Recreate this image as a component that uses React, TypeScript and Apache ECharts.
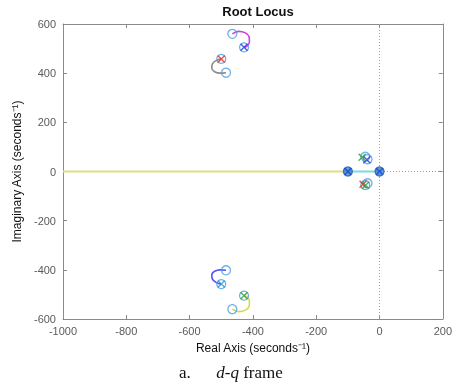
import React, { useEffect, useRef } from "react";
import * as echarts from "echarts";

const xRange = [-1000, 200];
const yRange = [-600, 600];
const tickStep = 200;

const magentaLocus = [[-428, 505], [-418, 511], [-411, 527], [-412, 548], [-424, 564], [-445, 570], [-465, 560]];
const grayLocus = [[-500, 458], [-515, 452], [-528, 438], [-530, 420], [-521, 406], [-503, 400], [-485, 402]];
const blueLocus = [[-485, -402], [-503, -400], [-521, -406], [-530, -420], [-528, -438], [-515, -452], [-500, -458]];
const yellowLocus = [[-428, -505], [-418, -511], [-411, -527], [-412, -548], [-424, -564], [-445, -570], [-465, -560]];
const realAxisLocus = [[-1000, 0], [-100, 0]];
const cyanLocus = [[-100, 0], [0, 0]];

const zerosOpen = [
  [-465, 560], [-428, 505], [-500, 458], [-485, 402],
  [-485, -402], [-500, -458], [-428, -505], [-465, -560],
  [-45, 60], [-38, 50], [-45, -55], [-38, -48],
];
const zerosFilled = [[-100, 0], [0, 0]];

const polesBlue = [[-428, 505], [-40, 48], [-100, 0], [0, 0]];
const polesRed = [[-500, 458], [-52, -52]];
const polesCyan = [[-500, -458]];
const polesGreen = [[-428, -505], [-55, 58], [-44, -56]];

const crossPath = "path://M0,0L10,10M10,0L0,10";

export default function App() {
  const ref = useRef<HTMLDivElement>(null);
  useEffect(() => {
    if (!ref.current) return;
    const chart = echarts.init(ref.current, undefined, { renderer: "svg" });
    const font = "'Liberation Sans', Arial, sans-serif";
    const serif = "'Liberation Serif', 'Times New Roman', serif";
    const axisColor = "#8a8a8a";
    const labelColor = "#5a5a5a";
    const line = (data: number[][], color: string, extra: any = {}) => ({
      type: "line",
      data,
      smooth: 0.4,
      showSymbol: false,
      silent: true,
      lineStyle: { color, width: 1.6, ...(extra.lineStyle || {}) },
      z: extra.z ?? 3,
    });
    const cross = (data: number[][], color: string) => ({
      type: "scatter",
      data,
      symbol: crossPath,
      symbolSize: 7,
      itemStyle: { color: "none", borderColor: color, borderWidth: 1.4 },
      z: 5,
    });
    const nameStyle = { color: "#111", fontFamily: font, fontSize: 12 };
    chart.setOption({
      animation: false,
      title: {
        text: "Root Locus",
        left: 253,
        textAlign: "center",
        top: 0,
        textStyle: { fontFamily: font, fontSize: 13, fontWeight: "bold", color: "#111" },
      },
      grid: { left: 63, right: 11, top: 24, bottom: 66 },
      xAxis: [
        {
          type: "value",
          min: xRange[0],
          max: xRange[1],
          interval: tickStep,
          position: "bottom",
          axisLine: { show: true, onZero: false, lineStyle: { color: axisColor, width: 1 } },
          axisTick: { show: true, inside: true, length: 4, lineStyle: { color: axisColor } },
          splitLine: { show: false },
          axisLabel: { color: labelColor, fontFamily: font, fontSize: 11, margin: 6, formatter: (v: number) => String(v) },
          name: "Real Axis (seconds\u207B\u00B9)",
          nameLocation: "middle",
          nameGap: 23,
          nameTextStyle: nameStyle,
        },
        {
          type: "value",
          min: xRange[0],
          max: xRange[1],
          interval: tickStep,
          position: "top",
          axisLine: { show: true, onZero: false, lineStyle: { color: axisColor, width: 1 } },
          axisTick: { show: true, inside: true, length: 4, lineStyle: { color: axisColor } },
          splitLine: { show: false },
          axisLabel: { show: false },
        },
      ],
      yAxis: [
        {
          type: "value",
          min: yRange[0],
          max: yRange[1],
          interval: tickStep,
          position: "left",
          axisLine: { show: true, onZero: false, lineStyle: { color: axisColor, width: 1 } },
          axisTick: { show: true, inside: true, length: 4, lineStyle: { color: axisColor } },
          splitLine: { show: false },
          axisLabel: { color: labelColor, fontFamily: font, fontSize: 11, margin: 7, formatter: (v: number) => String(v) },
          name: "Imaginary Axis (seconds\u207B\u00B9)",
          nameLocation: "middle",
          nameGap: 34,
          nameTextStyle: nameStyle,
        },
        {
          type: "value",
          min: yRange[0],
          max: yRange[1],
          interval: tickStep,
          position: "right",
          axisLine: { show: true, onZero: false, lineStyle: { color: axisColor, width: 1 } },
          axisTick: { show: true, inside: true, length: 4, lineStyle: { color: axisColor } },
          splitLine: { show: false },
          axisLabel: { show: false },
        },
      ],
      graphic: [
        {
          type: "text",
          left: 179,
          top: 364,
          style: {
            text: "{n|a.}{n|      }{i|d-q}{n| frame}",
            rich: {
              n: { fontFamily: serif, fontSize: 17, fill: "#111" },
              i: { fontFamily: serif, fontSize: 17, fontStyle: "italic", fill: "#111" },
            },
          },
        },
      ],
      series: [
        {
          type: "line",
          data: [[xRange[0], 0], [xRange[1], 0]],
          showSymbol: false,
          silent: true,
          lineStyle: { color: "#9a9a9a", width: 1, type: [1, 2] },
          z: 1,
        },
        {
          type: "line",
          data: [[0, yRange[0]], [0, yRange[1]]],
          showSymbol: false,
          silent: true,
          lineStyle: { color: "#9a9a9a", width: 1, type: [1, 2] },
          z: 1,
        },
        line(realAxisLocus, "#dede80", { lineStyle: { width: 1.8 } }),
        line(cyanLocus, "#7fd8dc", { lineStyle: { width: 1.8 } }),
        line(magentaLocus, "#d23ce0"),
        line(grayLocus, "#8c8c8c"),
        line(blueLocus, "#5a50f4"),
        line(yellowLocus, "#d8d850"),
        {
          type: "scatter",
          data: zerosOpen,
          symbol: "circle",
          symbolSize: 9,
          itemStyle: { color: "none", borderColor: "#4a9ee0", borderWidth: 1.3 },
          z: 4,
        },
        {
          type: "scatter",
          data: zerosFilled,
          symbol: "circle",
          symbolSize: 9,
          itemStyle: { color: "#3a86c8", borderColor: "#1f64a8", borderWidth: 1.3 },
          z: 4,
        },
        cross(polesBlue, "#1b3fd8"),
        cross(polesRed, "#e02a2a"),
        cross(polesCyan, "#2a9ad0"),
        cross(polesGreen, "#2e9a3a"),
      ],
    });
    return () => chart.dispose();
  }, []);
  return <div ref={ref} style={{ position: "fixed", left: 0, top: 0, width: 455, height: 385 }} />;
}
